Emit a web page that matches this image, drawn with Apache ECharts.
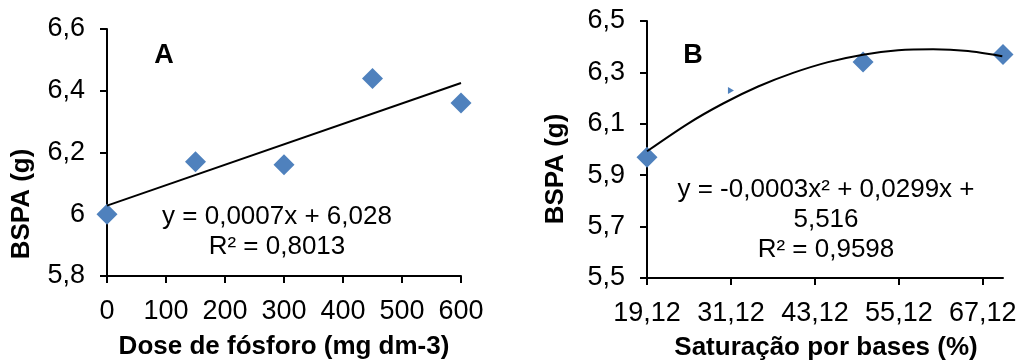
<!DOCTYPE html>
<html lang="pt-BR">
<head>
<meta charset="utf-8" />
<title>BSPA</title>
<style>
  html, body { margin: 0; padding: 0; background: #fff; }
  #main { width: 1020px; height: 363px; }
</style>
</head>
<body>
<div id="main"></div>
<script src="https://cdn.jsdelivr.net/npm/echarts@6/dist/echarts.min.js"></script>
<script>
// painel A: dose de fosforo
const doseA = [0, 150, 300, 450, 600];
const bspaA = [6.00, 6.17, 6.16, 6.44, 6.36];
const trendAX = [0, 600];
const trendAY = [6.028, 6.425];

// painel B: saturacao por bases
const satB = [19.12, 31.12, 50, 70];
const bspaB = [5.97, 6.23, 6.34, 6.37];
const curveBX = [19.12, 25, 30, 35, 40, 45, 50, 55, 60, 65, 69.9];
const curveBY = [5.993, 6.101, 6.179, 6.245, 6.298, 6.340, 6.369, 6.386, 6.390, 6.383, 6.363];
const ticksXB = [19.12, 31.12, 43.12, 55.12, 67.12];

const FONT = 'Arial, "Liberation Sans", sans-serif';
const BLUE = '#4F81BD';
const fmt = v => String(Math.round(v * 100) / 100).replace('.', ',');
const pairs = (xs, ys) => xs.map((x, i) => [x, ys[i]]);

const axisBase = {
  type: 'value',
  splitLine: { show: false },
  axisLine: { show: true, onZero: false, lineStyle: { color: '#000', width: 2 } },
  axisTick: { show: true, length: 7, lineStyle: { color: '#000', width: 2 } },
  axisLabel: { color: '#000', fontSize: 27, fontFamily: FONT, formatter: fmt }
};

function txt(x, y, text, opts) {
  return {
    type: 'text', x: x, y: y,
    style: Object.assign({
      text: text, fill: '#000', font: '26px ' + FONT,
      textAlign: 'center', textVerticalAlign: 'middle'
    }, opts || {})
  };
}

// ponto B escondido atras do rotulo no original
const bData = pairs(satB, bspaB).map((p, i) => i === 1
  ? { value: p, symbol: 'triangle', symbolRotate: -90, symbolSize: [7, 6] }
  : p);

const chart = echarts.init(document.getElementById('main'));
chart.setOption({
  animation: false,
  grid: [
    { left: 107, top: 29, width: 354, height: 247 },
    { left: 647, top: 21, width: 356, height: 257 }
  ],
  xAxis: [
    Object.assign({}, axisBase, { gridIndex: 0, min: 0, max: 600, interval: 100,
      axisLabel: Object.assign({}, axisBase.axisLabel, { margin: 22 }) }),
    Object.assign({}, axisBase, { gridIndex: 1, min: 19.12, max: 70,
      axisTick: Object.assign({}, axisBase.axisTick, { customValues: ticksXB }),
      axisLabel: Object.assign({}, axisBase.axisLabel, { margin: 22, customValues: ticksXB }) })
  ],
  yAxis: [
    Object.assign({}, axisBase, { gridIndex: 0, min: 5.8, max: 6.6, interval: 0.2,
      axisLabel: Object.assign({}, axisBase.axisLabel, { margin: 22 }) }),
    Object.assign({}, axisBase, { gridIndex: 1, min: 5.5, max: 6.5, interval: 0.2,
      axisLabel: Object.assign({}, axisBase.axisLabel, { margin: 22 }) })
  ],
  series: [
    { type: 'scatter', xAxisIndex: 0, yAxisIndex: 0, data: pairs(doseA, bspaA),
      symbol: 'diamond', symbolSize: 21, clip: false, itemStyle: { color: BLUE, opacity: 1 }, z: 2 },
    { type: 'line', xAxisIndex: 0, yAxisIndex: 0, data: pairs(trendAX, trendAY),
      symbol: 'none', lineStyle: { color: '#000', width: 2 }, z: 3 },
    { type: 'scatter', xAxisIndex: 1, yAxisIndex: 1, data: bData,
      symbol: 'diamond', symbolSize: 21, clip: false, itemStyle: { color: BLUE, opacity: 1 }, z: 2 },
    { type: 'line', xAxisIndex: 1, yAxisIndex: 1, data: pairs(curveBX, curveBY),
      symbol: 'none', smooth: 0.3, lineStyle: { color: '#000', width: 2 }, z: 3 }
  ],
  graphic: [
    txt(164, 56, 'A', { font: 'bold 27px ' + FONT }),
    txt(693, 56, 'B', { font: 'bold 27px ' + FONT }),
    txt(277, 217, 'y = 0,0007x + 6,028'),
    txt(277, 247, 'R² = 0,8013'),
    txt(826, 190, 'y = -0,0003x² + 0,0299x +'),
    txt(826, 220, '5,516'),
    txt(826, 250, 'R² = 0,9598'),
    txt(284, 347, 'Dose de fósforo (mg dm-3)', { font: 'bold 26px ' + FONT }),
    txt(826, 348, 'Saturação por bases (%)', { font: 'bold 26px ' + FONT }),
    Object.assign(txt(0, 0, 'BSPA (g)', { font: 'bold 26px ' + FONT }),
      { x: 22, y: 204, rotation: Math.PI / 2 }),
    Object.assign(txt(0, 0, 'BSPA (g)', { font: 'bold 26px ' + FONT }),
      { x: 556, y: 169, rotation: Math.PI / 2 })
  ]
});
</script>
</body>
</html>
